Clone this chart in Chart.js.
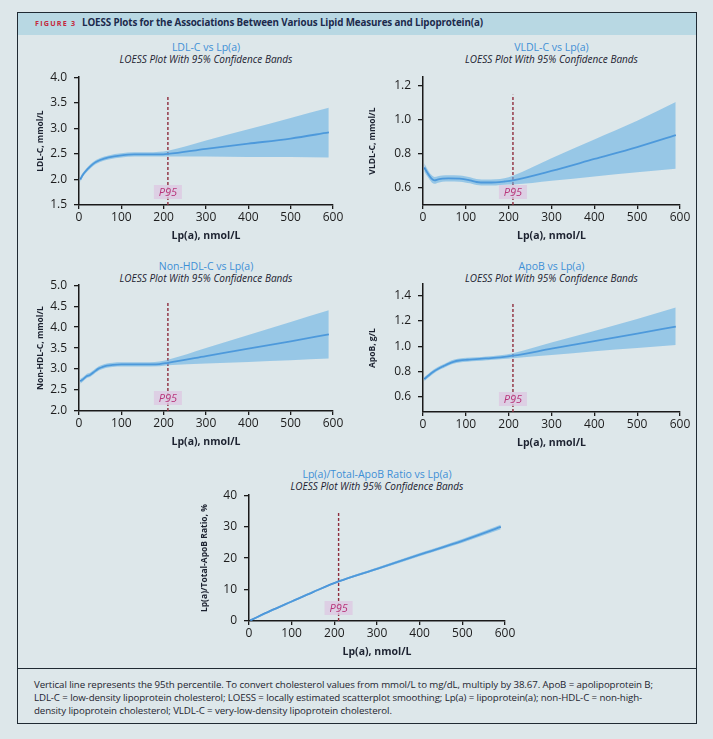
<!DOCTYPE html>
<html>
<head>
<meta charset="utf-8">
<script src="https://cdn.jsdelivr.net/npm/chart.js@4/dist/chart.umd.min.js"></script>
<style>
  body { margin: 0; background: #dde7ea; font-family: "Open Sans", sans-serif; }
  #fig { position: relative; width: 713px; height: 739px; }
  #box { position: absolute; left: 17px; top: 12px; width: 680px; height: 712px; border: 1.5px solid #1f2a33; box-sizing: border-box; }
  #head { position: absolute; left: 0; top: 0; right: 0; height: 22px; background: #b8d8e3; }
  #head span { position: absolute; top: 3px; font-weight: 700; white-space: nowrap; }
  #foot { position: absolute; left: 0; right: 0; top: 655px; border-top: 1.5px solid #1f2a33; }
  #foot div { position: absolute; left: 16px; top: 9px; font-size: 9.7px; line-height: 13px; color: #1d2530; white-space: nowrap; letter-spacing: -0.1px; }
  .t { position: absolute; width: 300px; text-align: center; white-space: nowrap; }
  .t1 { color: #3d8fd6; font-size: 10.5px; }
  .t2 { color: #1c2230; font-size: 10px; font-style: italic; }
  canvas { position: absolute; }
</style>
</head>
<body>
<div id="fig">
  <div id="box">
    <div id="head">
      <span style="left:17px;color:#c4283d;font-size:7.2px;letter-spacing:1.2px;top:4.5px">FIGURE 3</span>
      <span style="left:64px;color:#1c2a4c;font-size:9.8px;letter-spacing:-0.12px">LOESS Plots for the Associations Between Various Lipid Measures and Lipoprotein(a)</span>
    </div>
    <div id="foot"><div>Vertical line represents the 95th percentile. To convert cholesterol values from mmol/L to mg/dL, multiply by 38.67. ApoB = apolipoprotein B;<br>LDL-C = low-density lipoprotein cholesterol; LOESS = locally estimated scatterplot smoothing; Lp(a) = lipoprotein(a); non-HDL-C = non-high-<br>density lipoprotein cholesterol; VLDL-C = very-low-density lipoprotein cholesterol.</div></div>
  </div>
  <div id="titles"></div>
  <canvas id="c1"></canvas>
  <canvas id="c2"></canvas>
  <canvas id="c3"></canvas>
  <canvas id="c4"></canvas>
  <canvas id="c5"></canvas>
</div>
<script>
// x ticks shared by all panels
var xTicks = [0, 100, 200, 300, 400, 500, 600];
var p95 = 210;

// LDL-C
var ldlX     = [3, 10, 20, 30, 40, 50, 70, 100, 130, 160, 190, 210, 300, 400, 500, 590];
var ldlFit   = [2.00, 2.10, 2.20, 2.28, 2.34, 2.38, 2.43, 2.47, 2.49, 2.49, 2.49, 2.50, 2.60, 2.70, 2.80, 2.92];
var ldlUpper = [2.05, 2.14, 2.24, 2.32, 2.38, 2.42, 2.47, 2.51, 2.53, 2.53, 2.54, 2.56, 2.76, 2.98, 3.20, 3.40];
var ldlLower = [1.95, 2.06, 2.16, 2.24, 2.30, 2.34, 2.39, 2.43, 2.45, 2.45, 2.45, 2.45, 2.45, 2.44, 2.44, 2.43];
var ldlTicks = [1.5, 2.0, 2.5, 3.0, 3.5, 4.0];

// VLDL-C
var vldlX     = [3, 10, 20, 27, 35, 45, 60, 86, 110, 125, 148, 170, 190, 210, 300, 400, 500, 590];
var vldlFit   = [0.720, 0.690, 0.655, 0.645, 0.650, 0.655, 0.656, 0.655, 0.645, 0.635, 0.632, 0.633, 0.638, 0.645, 0.700, 0.770, 0.840, 0.910];
var vldlUpper = [0.745, 0.712, 0.676, 0.665, 0.669, 0.673, 0.674, 0.673, 0.663, 0.653, 0.650, 0.651, 0.657, 0.672, 0.775, 0.885, 0.995, 1.105];
var vldlLower = [0.695, 0.668, 0.634, 0.625, 0.631, 0.637, 0.638, 0.637, 0.627, 0.617, 0.614, 0.615, 0.619, 0.620, 0.642, 0.667, 0.692, 0.713];
var vldlTicks = [0.6, 0.8, 1.0, 1.2];

// Non-HDL-C
var nhdlX     = [3, 10, 18, 26, 34, 46, 56, 66, 80, 100, 145, 190, 210, 300, 400, 500, 590];
var nhdlFit   = [2.71, 2.76, 2.83, 2.86, 2.92, 3.01, 3.05, 3.08, 3.10, 3.11, 3.11, 3.12, 3.15, 3.31, 3.49, 3.66, 3.83];
var nhdlUpper = [2.77, 2.81, 2.88, 2.91, 2.97, 3.06, 3.10, 3.13, 3.15, 3.16, 3.16, 3.18, 3.22, 3.50, 3.81, 4.12, 4.40];
var nhdlLower = [2.65, 2.71, 2.78, 2.81, 2.87, 2.96, 3.00, 3.03, 3.05, 3.06, 3.06, 3.07, 3.09, 3.13, 3.17, 3.21, 3.25];
var nhdlTicks = [2.0, 2.5, 3.0, 3.5, 4.0, 4.5, 5.0];

// ApoB
var apobX     = [3, 10, 25, 40, 48, 60, 71, 85, 103, 125, 149, 180, 210, 300, 400, 500, 590];
var apobFit   = [0.740, 0.760, 0.800, 0.830, 0.843, 0.862, 0.877, 0.887, 0.893, 0.898, 0.904, 0.912, 0.925, 0.980, 1.040, 1.100, 1.155];
var apobUpper = [0.757, 0.775, 0.815, 0.845, 0.858, 0.877, 0.892, 0.902, 0.908, 0.913, 0.919, 0.928, 0.945, 1.030, 1.120, 1.215, 1.305];
var apobLower = [0.723, 0.745, 0.785, 0.815, 0.828, 0.847, 0.862, 0.872, 0.878, 0.883, 0.889, 0.896, 0.905, 0.930, 0.960, 0.985, 1.010];
var apobTicks = [0.6, 0.8, 1.0, 1.2, 1.4];

// Lp(a)/Total-ApoB ratio
var ratioX     = [3, 50, 100, 150, 210, 300, 400, 500, 590];
var ratioFit   = [0.2, 3.2, 6.2, 9.2, 12.6, 16.6, 21.1, 25.5, 29.9];
var ratioUpper = [0.5, 3.5, 6.5, 9.5, 12.9, 17.0, 21.6, 26.1, 30.6];
var ratioLower = [-0.1, 2.9, 5.9, 8.9, 12.3, 16.2, 20.6, 24.9, 29.2];
var ratioTicks = [0, 10, 20, 30, 40];

var bandColor = 'rgba(100,175,228,0.58)';
var lineColor = '#2f7bcf';
var p95Color = '#8e2c3c';
var padTop = 14;

function pts(xs, ys) {
    return xs.map(function (x, i) { return { x: x, y: ys[i] }; });
}

// P95 tag sits over the dashed line, just above the x axis
var p95Label = {
    id: 'p95Label',
    afterDatasetsDraw: function (chart) {
        var ctx = chart.ctx;
        var px = chart.scales.x.getPixelForValue(p95);
        var py = chart.chartArea.bottom - 13;
        ctx.save();
        ctx.fillStyle = 'rgba(221,200,226,0.78)';
        ctx.fillRect(px - 14, py - 7, 28, 14);
        ctx.fillStyle = '#b8347a';
        ctx.font = 'italic 11px "Open Sans"';
        ctx.textAlign = 'center';
        ctx.textBaseline = 'middle';
        ctx.fillText('P95', px, py + 0.5);
        ctx.restore();
    }
};

function makePanel(p) {
    var canvas = document.getElementById(p.id);
    var top = p.area[1] - padTop;
    var w = p.area[2] + 15 - p.left;
    var h = p.area[3] + 40 - top;
    canvas.width = w;
    canvas.height = h;
    canvas.style.left = p.left + 'px';
    canvas.style.top = top + 'px';

    var cx = (p.area[0] + p.area[2]) / 2;
    var titles = document.getElementById('titles');
    titles.innerHTML += '<div class="t t1" style="left:' + (cx - 150) + 'px;top:' + (p.titleTop) + 'px">' + p.title + '</div>' +
        '<div class="t t2" style="left:' + (cx - 150) + 'px;top:' + (p.titleTop + 12) + 'px">LOESS Plot With 95% Confidence Bands</div>';

    var yw = p.area[0] - p.left;
    new Chart(canvas, {
        type: 'line',
        data: {
            datasets: [
                { data: pts(p.xs, p.upper), borderWidth: 0, pointRadius: 0, backgroundColor: bandColor, fill: '+1', cubicInterpolationMode: 'monotone' },
                { data: pts(p.xs, p.lower), borderWidth: 0, pointRadius: 0, fill: false, cubicInterpolationMode: 'monotone' },
                { data: pts(p.xs, p.fit), borderColor: lineColor, borderWidth: 1.8, pointRadius: 0, fill: false, cubicInterpolationMode: 'monotone' },
                { data: [{ x: p95, y: p.yMin }, { x: p95, y: p.p95Top }], borderColor: p95Color, borderWidth: 1.4, borderDash: [3, 2], pointRadius: 0, fill: false }
            ]
        },
        options: {
            responsive: false,
            animation: false,
            layout: { padding: { top: padTop, right: 15, left: 0, bottom: 0 } },
            plugins: { legend: { display: false }, tooltip: { enabled: false } },
            scales: {
                x: {
                    type: 'linear', min: 0, max: 600,
                    afterBuildTicks: function (s) { s.ticks = xTicks.map(function (v) { return { value: v }; }); },
                    afterFit: function (s) { s.height = 40; },
                    grid: { drawOnChartArea: false, drawTicks: true, tickLength: 4, color: '#1a1a1a', lineWidth: 1.3 },
                    border: { display: true, color: '#1a1a1a', width: 1.5 },
                    ticks: { color: '#1d1d1d', font: { family: 'Open Sans', size: 12 }, padding: 1, maxRotation: 0 },
                    title: { display: true, text: 'Lp(a), nmol/L', color: '#1c2230', font: { family: 'Open Sans', size: 10.5, weight: 'bold' }, padding: { top: 0, bottom: 3 } }
                },
                y: {
                    type: 'linear', min: p.yMin, max: p.yMax,
                    afterBuildTicks: function (s) { s.ticks = p.ticks.map(function (v) { return { value: v }; }); },
                    afterFit: function (s) { s.width = yw; },
                    grid: { drawOnChartArea: false, drawTicks: true, tickLength: 5, color: '#1a1a1a', lineWidth: 1.3 },
                    border: { display: true, color: '#1a1a1a', width: 1.5 },
                    ticks: {
                        color: '#1d1d1d', font: { family: 'Open Sans', size: 12 }, padding: 7,
                        callback: function (v) { return p.dec ? v.toFixed(1) : String(v); }
                    },
                    title: { display: true, text: p.yTitle, color: '#1c2230', font: { family: 'Open Sans', size: 8.5, weight: 'bold' }, padding: { top: p.yTitlePad, bottom: 0 } }
                }
            }
        },
        plugins: [p95Label]
    });
}

makePanel({ id: 'c1', left: 32, area: [79, 77, 333, 205], title: 'LDL-C vs Lp(a)', titleTop: 40,
    xs: ldlX, fit: ldlFit, upper: ldlUpper, lower: ldlLower, ticks: ldlTicks, yMin: 1.5, yMax: 4.0, p95Top: 3.65,
    yTitle: 'LDL-C, mmol/L', yTitlePad: 3, dec: true });
makePanel({ id: 'c2', left: 366, area: [423, 77, 680, 205], title: 'VLDL-C vs Lp(a)', titleTop: 40,
    xs: vldlX, fit: vldlFit, upper: vldlUpper, lower: vldlLower, ticks: vldlTicks, yMin: 0.5, yMax: 1.25, p95Top: 1.147,
    yTitle: 'VLDL-C, mmol/L', yTitlePad: 1, dec: true });
makePanel({ id: 'c3', left: 32, area: [79, 285, 333, 411], title: 'Non-HDL-C vs Lp(a)', titleTop: 259,
    xs: nhdlX, fit: nhdlFit, upper: nhdlUpper, lower: nhdlLower, ticks: nhdlTicks, yMin: 2.0, yMax: 5.0, p95Top: 4.6,
    yTitle: 'Non-HDL-C, mmol/L', yTitlePad: 3, dec: true });
makePanel({ id: 'c4', left: 366, area: [423, 284, 680, 412], title: 'ApoB vs Lp(a)', titleTop: 259,
    xs: apobX, fit: apobFit, upper: apobUpper, lower: apobLower, ticks: apobTicks, yMin: 0.48, yMax: 1.49, p95Top: 1.35,
    yTitle: 'ApoB, g/L', yTitlePad: 1, dec: true });
makePanel({ id: 'c5', left: 198, area: [249, 495, 505, 621], title: 'Lp(a)/Total-ApoB Ratio vs Lp(a)', titleTop: 467,
    xs: ratioX, fit: ratioFit, upper: ratioUpper, lower: ratioLower, ticks: ratioTicks, yMin: 0, yMax: 40, p95Top: 34.7,
    yTitle: 'Lp(a)/Total-ApoB Ratio, %', yTitlePad: 1, dec: false });
</script>
</body>
</html>
